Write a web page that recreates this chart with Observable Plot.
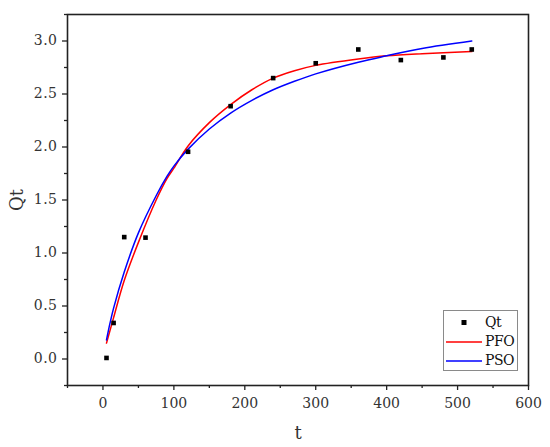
<!DOCTYPE html>
<html>
<head>
<meta charset="utf-8">
<script src="https://cdn.jsdelivr.net/npm/d3@7"></script>
<script src="https://cdn.jsdelivr.net/npm/@observablehq/plot@0.6"></script>
<style>
  html, body { margin: 0; padding: 0; background: #fff; }
  #wrap { position: relative; width: 550px; height: 447px; }
  svg text { font-family: "DejaVu Serif", serif; }
  g[aria-label="y-axis tick label"] text { letter-spacing: 0.5px; }
  #legend {
    position: absolute; left: 443px; top: 310px; width: 75px; height: 61px;
    border: 1px solid #8a8a8a; background: #fff; box-sizing: border-box;
    font-family: "DejaVu Serif", serif; font-size: 14px; color: #111;
  }
  .row { position: absolute; left: 0; height: 19px; width: 74px; }
  .row svg { position: absolute; left: 0; top: 0; }
  .row span { position: absolute; left: 41px; top: 0px; line-height: 19px; letter-spacing: -0.5px; }
</style>
</head>
<body>
<div id="wrap"></div>
<script>
// Experimental data (t, Qt)
const tData = [5, 15, 30, 60, 120, 180, 240, 300, 360, 420, 480, 520];
const qtData = [0.01, 0.34, 1.15, 1.145, 1.955, 2.385, 2.65, 2.79, 2.92, 2.82, 2.845, 2.92];

// PFO fitted curve
const pfoT = [5, 10, 15, 30, 50, 75, 90, 100, 120, 150, 180, 210, 240, 270, 300, 360, 400, 450, 520];
const pfoQ = [0.15, 0.27, 0.39, 0.74, 1.10, 1.50, 1.70, 1.80, 2.01, 2.23, 2.40, 2.54, 2.65, 2.72, 2.77, 2.83, 2.86, 2.88, 2.90];

// PSO fitted curve
const psoT = [5, 10, 15, 30, 50, 75, 90, 100, 120, 150, 180, 210, 240, 270, 300, 360, 400, 450, 520];
const psoQ = [0.18, 0.34, 0.48, 0.82, 1.19, 1.54, 1.72, 1.82, 1.98, 2.17, 2.32, 2.44, 2.54, 2.62, 2.69, 2.80, 2.86, 2.93, 3.00];

// Ticks
const xMajor = [0, 100, 200, 300, 400, 500, 600];
const xMinor = [-50, 50, 150, 250, 350, 450, 550];
const yMajor = [0, 0.5, 1.0, 1.5, 2.0, 2.5, 3.0];
const yMinor = [-0.25, 0.25, 0.75, 1.25, 1.75, 2.25, 2.75, 3.25];

const series = ["Qt", "PFO", "PSO"];
const colors = ["#000000", "#ff0000", "#0000ff"];

const points = tData.map((t, i) => ({t, q: qtData[i]}));
const pfo = pfoT.map((t, i) => ({t, q: pfoQ[i]}));
const pso = psoT.map((t, i) => ({t, q: psoQ[i]}));

const chart = Plot.plot({
  width: 550,
  height: 447,
  marginLeft: 67,
  marginRight: 22,
  marginTop: 14,
  marginBottom: 62,
  style: {fontFamily: "'DejaVu Serif', serif", fontSize: "14px", color: "#222", background: "#fff"},
  x: {domain: [-50, 600]},
  y: {domain: [-0.25, 3.25]},
  marks: [
    Plot.axisX({ticks: xMinor, tickSize: 3, tickFormat: () => "", stroke: "#222", strokeWidth: 1.3, label: null}),
    Plot.axisX({ticks: xMajor, tickSize: 5, tickPadding: 8, tickFormat: d => String(d), stroke: "#222", strokeWidth: 1.3,
      fill: "#333", fontSize: 14, label: "t", labelAnchor: "center", labelArrow: "none", labelOffset: 53}),
    Plot.axisY({ticks: yMinor, tickSize: 3, tickFormat: () => "", stroke: "#222", strokeWidth: 1.3, label: null}),
    Plot.axisY({ticks: yMajor, tickSize: 5, tickPadding: 5, tickFormat: d3.format(".1f"), stroke: "#222", strokeWidth: 1.3,
      fill: "#333", fontSize: 14, label: "Qt", labelAnchor: "center", labelArrow: "none", labelOffset: 57}),
    Plot.line(pfo, {x: "t", y: "q", stroke: colors[1], strokeWidth: 1.5, curve: "catmull-rom"}),
    Plot.line(pso, {x: "t", y: "q", stroke: colors[2], strokeWidth: 1.5, curve: "catmull-rom"}),
    Plot.dot(points, {x: "t", y: "q", symbol: "square", r: 2.6, fill: colors[0], stroke: "none"}),
    Plot.frame({stroke: "#222", strokeWidth: 1.6})
  ]
});

// enlarge axis labels
d3.select(chart).selectAll('g[aria-label="x-axis label"] text, g[aria-label="y-axis label"] text')
  .style("font-size", "18px");

const wrap = document.getElementById("wrap");
wrap.appendChild(chart);

// Legend
const legend = document.createElement("div");
legend.id = "legend";
series.forEach((name, i) => {
  const row = document.createElement("div");
  row.className = "row";
  row.style.top = (2 + i * 19) + "px";
  let sw;
  if (i === 0) {
    sw = `<svg width="40" height="19"><rect x="17.5" y="7" width="5" height="5" fill="${colors[0]}"/></svg>`;
  } else {
    sw = `<svg width="40" height="19"><line x1="2" x2="38" y1="10" y2="10" stroke="${colors[i]}" stroke-width="1.5"/></svg>`;
  }
  row.innerHTML = sw + `<span>${name}</span>`;
  legend.appendChild(row);
});
wrap.appendChild(legend);
</script>
</body>
</html>
